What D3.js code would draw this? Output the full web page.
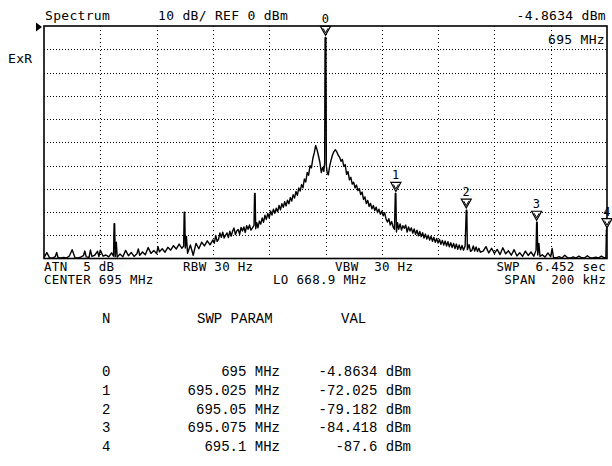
<!DOCTYPE html>
<html>
<head>
<meta charset="utf-8">
<script src="https://cdn.jsdelivr.net/npm/d3@7"></script>
<style>
body { margin: 0; background: #fff; }
svg { display: block; }
text { white-space: pre; }
.lbl { font-family: "DejaVu Sans Mono", monospace; font-size: 13px; letter-spacing: 0.3px; fill: #000; }
.small { font-size: 12.5px; }
.tbl { font-family: "Liberation Mono", monospace; font-size: 14px; fill: #000; }
.grid line { stroke: #000; stroke-width: 1; shape-rendering: crispEdges; }
.grid .domain { display: none; }
</style>
</head>
<body>
<div id="chart"></div>
<script>
// trace: [offset from center in kHz, level in dBm]
var trace = [
    [-100,-99.6],[-99,-97.5],[-98,-99.7],[-97,-99.8],[-96,-99.2],[-95.5,-97.4],[-95,-99.7],[-94,-99.8],[-93,-99.5],[-92,-99.8],
    [-91,-98.9],[-90,-96.2],[-89,-99.6],[-88,-99.8],[-87,-99.4],[-86,-98.8],[-85.5,-96.8],[-85,-99.3],[-84,-99.5],[-83.5,-96.3],
    [-83,-99.1],[-82,-98.6],[-81,-96.9],[-80.5,-99.2],[-80,-96.4],[-79,-99.0],[-78,-98.5],[-77,-99.3],[-76,-97.6],[-75.3,-99.0],
    [-75.1,-85.0],[-74.9,-85.0],[-74.7,-99.2],[-74.3,-93.0],[-74,-99.4],[-73,-98.1],[-72,-99.3],[-71,-96.5],[-70,-98.8],[-69,-97.4],
    [-68,-99.1],[-67,-98.0],[-66.5,-95.9],[-66,-98.6],[-65,-97.2],[-64,-98.4],[-63,-95.3],[-62,-97.8],[-61,-96.6],[-60,-97.9],
    [-59.5,-94.9],[-59,-97.1],[-58,-95.8],[-57,-97.3],[-56,-95.2],[-55,-96.4],[-54,-94.5],[-53,-95.9],[-52,-93.8],[-51,-95.6],
    [-50.4,-94.7],[-50.2,-80.1],[-50.0,-80.1],[-49.8,-95.5],[-49.4,-90.5],[-49,-97.8],[-48,-94.2],[-47,-98.6],[-46,-93.5],[-45,-95.8],
    [-44,-93.0],[-43,-94.6],[-42,-92.4],[-41,-94.1],[-40,-92.0],[-39.5,-93.4],[-39,-90.1],[-38.5,-92.6],[-38,-91.8],[-37.5,-89.0],
    [-37,-90.9],[-36.5,-88.7],[-36,-91.2],[-35.5,-90.0],[-35,-89.0],[-34.5,-91.0],[-34,-88.3],[-33.5,-90.4],[-33,-88.2],[-32.5,-86.9],
    [-32,-89.7],[-31.5,-88.1],[-31,-87.5],[-30.5,-89.6],[-30,-86.6],[-29.5,-88.2],[-29,-86.4],[-28.5,-88.8],[-28,-85.9],[-27.5,-87.4],
    [-27,-85.6],[-26.5,-87.8],[-26,-86.9],[-25.4,-85.8],[-25.2,-72.0],[-25.0,-72.0],[-24.8,-87.2],[-24.4,-84.6],[-24,-86.8],[-23.5,-83.9],
    [-23,-85.2],[-22.5,-82.6],[-22,-84.4],[-21.5,-81.4],[-21,-83.2],[-20.5,-80.6],[-20,-82.5],[-19.5,-79.6],[-19,-81.3],[-18.5,-78.8],
    [-18,-80.6],[-17.5,-78.4],[-17,-79.9],[-16.5,-77.2],[-16,-79.1],[-15.5,-76.4],[-15,-78.0],[-14.5,-75.6],[-14,-77.4],[-13.5,-74.9],
    [-13,-76.5],[-12.5,-73.8],[-12,-75.3],[-11.5,-72.6],[-11,-74.0],[-10.5,-71.2],[-10,-72.8],[-9.5,-69.7],[-9,-71.0],[-8.5,-68.2],
    [-8,-69.6],[-7.5,-65.8],[-7,-67.1],[-6.5,-63.0],[-6,-64.2],[-5.5,-60.1],[-5,-61.0],[-4.5,-57.0],[-4,-54.6],[-3.5,-51.4],
    [-3,-53.2],[-2.5,-55.8],[-2,-58.6],[-1.5,-63.0],[-1,-60.8],[-0.6,-62.5],[-0.3,-59.0],[-0.15,-5.2],[0,-4.86],[0.15,-5.2],
    [0.3,-60.0],[0.6,-63.2],[1,-64.0],[1.5,-60.2],[2,-57.6],[2.5,-55.4],[3,-54.0],[3.5,-53.2],[4,-54.1],[4.5,-55.6],
    [5,-56.4],[5.5,-58.2],[6,-57.4],[6.5,-60.4],[7,-59.6],[7.5,-63.8],[8,-62.6],[8.5,-66.2],[9,-65.1],[9.5,-68.0],
    [10,-67.2],[10.5,-69.6],[11,-68.4],[11.5,-70.8],[12,-69.9],[12.5,-72.5],[13,-71.4],[13.5,-74.6],[14,-73.5],[14.5,-76.4],
    [15,-75.0],[15.5,-77.6],[16,-76.3],[16.5,-78.6],[17,-77.2],[17.5,-79.4],[18,-77.9],[18.5,-80.2],[19,-78.8],[19.5,-81.0],
    [20,-79.7],[20.5,-81.6],[21,-80.3],[21.5,-83.0],[22,-84.3],[22.5,-82.9],[23,-85.6],[23.5,-84.1],[24,-86.4],[24.5,-87.5],
    [24.8,-72.0],[25.0,-72.0],[25.2,-88.6],[25.6,-84.6],[26,-87.4],[26.5,-85.1],[27,-87.8],[27.5,-85.9],[28,-87.0],[28.5,-85.6],
    [29,-88.6],[29.5,-86.4],[30,-88.2],[30.5,-86.8],[31,-89.1],[31.5,-87.3],[32,-89.6],[32.5,-87.8],[33,-90.2],[33.5,-88.4],
    [34,-90.6],[34.5,-88.9],[35,-91.2],[35.5,-89.5],[36,-91.6],[36.5,-90.0],[37,-92.1],[37.5,-90.4],[38,-92.6],[38.5,-90.9],
    [39,-93.0],[39.5,-91.4],[40,-93.3],[40.5,-91.8],[41,-93.9],[41.5,-92.2],[42,-94.2],[42.5,-92.5],[43,-94.6],[43.5,-92.8],
    [44,-95.0],[44.5,-93.2],[45,-95.3],[45.5,-93.5],[46,-95.7],[46.5,-93.8],[47,-96.0],[47.5,-94.2],[48,-96.2],[48.5,-94.4],
    [49,-96.4],[49.6,-94.6],[50.0,-79.2],[50.2,-79.2],[50.4,-96.2],[51,-94.0],[51.5,-96.9],[52,-96.5],[52.5,-94.6],[53,-96.8],
    [53.5,-95.0],[54,-97.0],[54.5,-95.6],[55,-97.3],[56,-96.8],[57,-94.9],[58,-97.6],[59,-95.6],[60,-97.8],[61,-96.1],
    [62,-98.3],[63,-95.4],[64,-98.0],[65,-96.7],[66,-98.6],[67,-96.2],[68,-98.9],[69,-97.5],[70,-99.1],[71,-96.8],
    [72,-98.7],[73,-97.2],[74,-99.0],[74.8,-96.4],[75.0,-84.4],[75.2,-84.4],[75.4,-98.5],[75.8,-93.5],[76.2,-99.1],[77,-98.4],
    [78,-99.4],[79,-97.6],[80,-99.2],[80.5,-95.7],[81,-99.5],[82,-99.7],[83,-99.2],[84,-99.8],[85,-98.6],[86,-99.7],
    [87,-99.8],[88,-99.3],[89,-99.8],[90,-99.0],[91,-99.7],[92,-99.8],[93,-98.8],[94,-99.7],[95,-99.8],[96,-99.4],
    [97,-99.8],[98,-99.0],[99,-99.7],[99.6,-99.5],[99.8,-87.6],[100,-87.6]
];

var markerNo = [0, 1, 2, 3, 4];
var markerMHz = [695, 695.025, 695.05, 695.075, 695.1];
var markerDbm = [-4.8634, -72.025, -79.182, -84.418, -87.6];

var centerMHz = 695;
var spanKHz = 200;
var refDbm = 0;
var dbPerDiv = 10;
var xGridKHz = [-80, -60, -40, -20, 0, 20, 40, 60, 80];
var yGridDbm = [-10, -20, -30, -40, -50, -60, -70, -80, -90];

var topLabels = ["Spectrum", "10 dB/ REF 0 dBm"];
var bottomRow1 = ["ATN  5 dB", "RBW 30 Hz", "VBW  30 Hz", "SWP  6.452 sec"];
var bottomRow2 = ["CENTER 695 MHz", "LO 668.9 MHz", "SPAN  200 kHz"];
var tableHead = ["N", "SWP PARAM", "VAL"];


var svg = d3.select("#chart").append("svg")
    .attr("width", 612)
    .attr("height", 466);

var plotL = 44, plotR = 607, plotT = 26, plotB = 258.5;

var x = d3.scaleLinear()
    .domain([-spanKHz / 2, spanKHz / 2])
    .range([plotL, plotR]);
var y = d3.scaleLinear()
    .domain([refDbm, refDbm - 10 * dbPerDiv])
    .range([plotT, plotB]);

// dotted graticule
svg.append("g")
    .attr("class", "grid")
    .attr("transform", "translate(0," + plotB + ")")
    .call(d3.axisBottom(x).tickValues(xGridKHz).tickSize(-(plotB - plotT)).tickFormat(""))
    .selectAll("line").attr("stroke-dasharray", "1,3");
svg.append("g")
    .attr("class", "grid")
    .attr("transform", "translate(" + plotL + ",0)")
    .call(d3.axisLeft(y).tickValues(yGridDbm).tickSize(-(plotR - plotL)).tickFormat(""))
    .selectAll("line").attr("stroke-dasharray", "1,2");

var line = d3.line()
    .x(function(d) { return x(d[0]); })
    .y(function(d) { return y(d[1]); });

svg.append("path")
    .datum(trace)
    .attr("d", line)
    .attr("fill", "none")
    .attr("stroke", "#000")
    .attr("stroke-width", 1.4)
    .attr("stroke-linejoin", "round");

svg.append("rect")
    .attr("x", plotL)
    .attr("y", plotT)
    .attr("width", plotR - plotL)
    .attr("height", plotB - plotT)
    .attr("fill", "none")
    .attr("stroke", "#000")
    .attr("stroke-width", 1.6);

// reference level arrow
var ry = y(refDbm) + 1;
svg.append("path")
    .attr("d", "M" + (plotL - 8) + "," + (ry - 4.5) + "L" + (plotL - 2) + "," + ry + "L" + (plotL - 8) + "," + (ry + 4.5) + "Z")
    .attr("fill", "#000");

// markers
var mk = svg.append("g");
markerNo.forEach(function(n, i) {
    var mx = x((markerMHz[i] - centerMHz) * 1000);
    var my = y(markerDbm[i]) - 2;
    mk.append("path")
        .attr("d", "M" + (mx - 5) + "," + (my - 9) + "L" + (mx + 5) + "," + (my - 9) + "L" + mx + "," + my + "Z")
        .attr("fill", "#fff")
        .attr("stroke", "#000")
        .attr("stroke-width", 1.2);
    mk.append("path")
        .attr("d", "M" + (mx - 2.5) + "," + (my - 7) + "L" + mx + "," + (my - 2.5) + "L" + (mx + 2.5) + "," + (my - 7))
        .attr("fill", "none")
        .attr("stroke", "#000")
        .attr("stroke-width", 1);
    mk.append("text")
        .attr("class", "lbl")
        .attr("x", mx)
        .attr("y", my - 12)
        .attr("text-anchor", "middle")
        .style("font-size", "12px")
        .text(n);
});

// header and footer text
function label(t, tx, ty, anchor, cls) {
    svg.append("text")
        .attr("class", "lbl" + (cls ? " " + cls : ""))
        .attr("x", tx)
        .attr("y", ty)
        .attr("text-anchor", anchor || "start")
        .text(t);
}
label(topLabels[0], 45, 20);
label(topLabels[1], 158, 20);
label(markerDbm[0] + " dBm", 606, 20, "end");
label(markerMHz[0] + " MHz", 605, 43.5, "end");
label("ExR", 8, 63);

label(bottomRow1[0], 44, 271, "start", "small");
label(bottomRow1[1], 183, 271, "start", "small");
label(bottomRow1[2], 335, 271, "start", "small");
label(bottomRow1[3], 606, 271, "end", "small");
label(bottomRow2[0], 44, 284, "start", "small");
label(bottomRow2[1], 273, 284, "start", "small");
label(bottomRow2[2], 606, 284, "end", "small");

// marker table
var tbl = svg.append("g");
tbl.append("text").attr("class", "tbl").attr("x", 102).attr("y", 323).text(tableHead[0]);
tbl.append("text").attr("class", "tbl").attr("x", 197).attr("y", 323).text(tableHead[1]);
tbl.append("text").attr("class", "tbl").attr("x", 341).attr("y", 323).text(tableHead[2]);

var rows = tbl.selectAll("g.row")
    .data(markerNo)
    .enter().append("g")
    .attr("class", "row")
    .attr("transform", function(d, i) { return "translate(0," + (376 + i * 18.8) + ")"; });
rows.append("text").attr("class", "tbl").attr("x", 102)
    .text(function(d) { return d; });
rows.append("text").attr("class", "tbl").attr("x", 280).attr("text-anchor", "end")
    .text(function(d, i) { return markerMHz[i] + " MHz"; });
rows.append("text").attr("class", "tbl").attr("x", 411).attr("text-anchor", "end")
    .text(function(d, i) { return markerDbm[i] + " dBm"; });
</script>
</body>
</html>
